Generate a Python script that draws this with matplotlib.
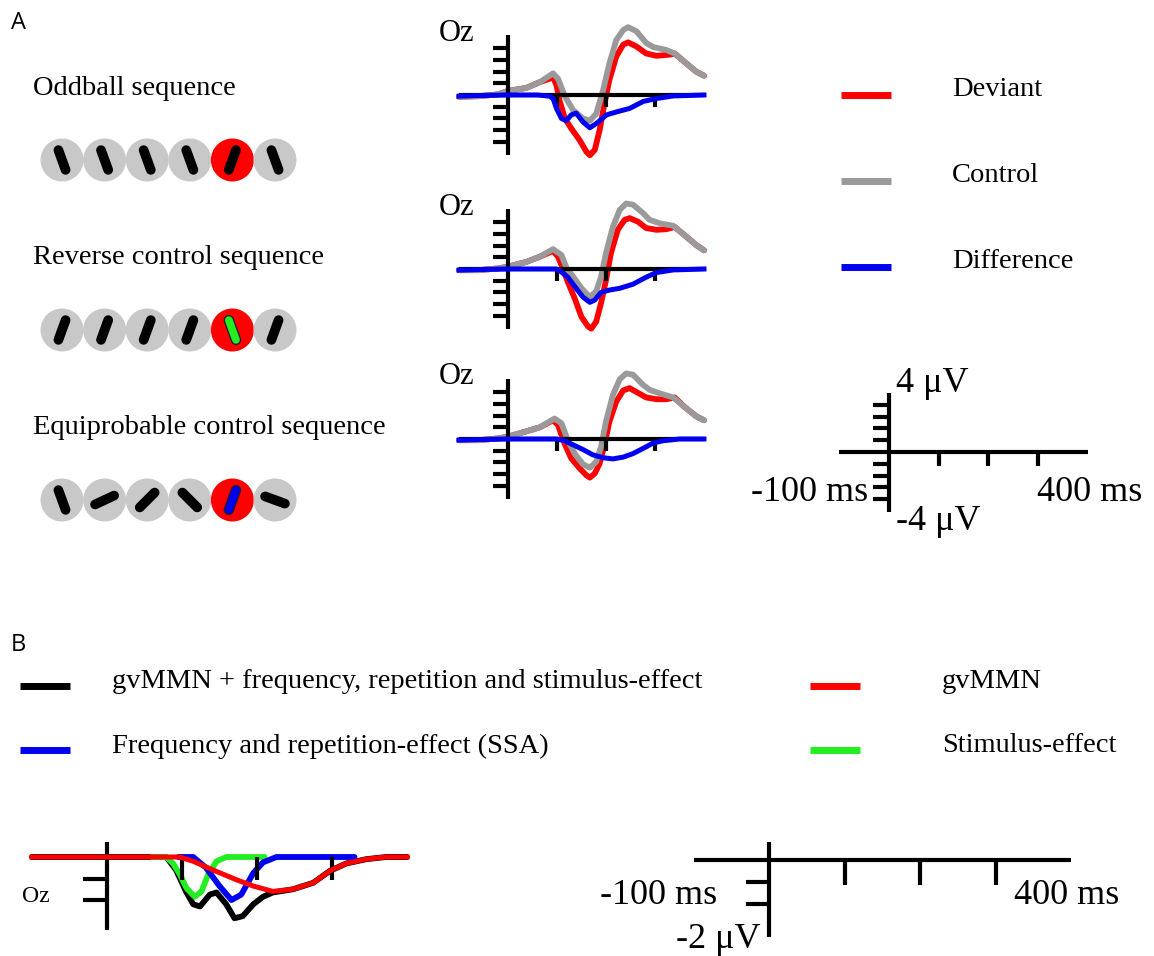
import matplotlib
matplotlib.use("Agg")
import matplotlib.pyplot as plt
from matplotlib.patches import Circle
import numpy as np

W, H = 1154, 956
SERIF = "Liberation Serif"
SANS = "Open Sans"

RED = "#ff0000"
GREY = "#9a9a9a"
BLUE = "#0000f0"
GREEN = "#22ee22"
BLACK = "#000000"

# ---------------- data ----------------
# Stimulus rows: bar orientation (degrees from vertical, + = top leans right)
row_labels = ["Oddball sequence", "Reverse control sequence",
              "Equiprobable control sequence"]
oddball_angles = [-20, -20, -20, -20, 20, -20]
reverse_angles = [20, 20, 20, 20, -20, 20]
equiprob_angles = [-20, 65, 45, -45, 20, -70]
deviant_bar_colors = [BLACK, GREEN, BLUE]

# Panel A waveforms (ms, µV)
odd_ctrl_t = [-100, -60, -20, 0, 37, 65, 92, 102, 116, 133, 153, 167, 180, 194,
              207, 221, 235, 245, 262, 282, 296, 323, 340, 364, 384, 400]
odd_ctrl_v = [-0.15, -0.1, 0.05, 0.35, 0.6, 1.1, 1.85, 1.4, -0.1, -1.3, -2.0,
              -2.2, -1.6, 0.4, 2.7, 4.7, 5.55, 5.8, 5.45, 4.45, 4.1, 3.85, 3.55,
              2.7, 2.0, 1.65]
odd_dev_t = [-100, -60, -20, 0, 37, 65, 92, 99, 105, 116, 129, 146, 160, 167,
             177, 187, 197, 207, 221, 235, 245, 262, 282, 303, 330, 340, 364,
             384, 400]
odd_dev_v = [-0.15, -0.1, 0.05, 0.35, 0.6, 1.1, 1.5, 0.85, -0.45, -2.0, -2.85,
             -3.85, -4.85, -5.15, -4.7, -3.0, -0.7, 1.3, 3.3, 4.3, 4.5, 4.15,
             3.55, 3.35, 3.45, 3.55, 2.7, 2.0, 1.65]
odd_diff_t = [-100, -60, 0, 60, 85, 92, 99, 109, 119, 129, 139, 153, 167, 180,
              201, 221, 248, 276, 303, 337, 400]
odd_diff_v = [-0.1, -0.05, 0.0, 0.0, -0.1, -0.3, -1.15, -2.0, -2.2, -1.7, -1.55,
              -2.3, -2.8, -2.45, -1.7, -1.45, -1.15, -0.55, -0.3, -0.08, 0.0]

rev_ctrl_t = [-100, -60, -20, 0, 37, 65, 92, 109, 120, 133, 150, 167, 180, 190,
              200, 214, 228, 241, 255, 275, 289, 310, 337, 360, 384, 400]
rev_ctrl_v = [-0.1, -0.1, 0.05, 0.2, 0.6, 1.05, 1.7, 1.2, 0.05, -0.65, -1.65,
              -2.4, -1.9, -0.65, 1.35, 3.6, 5.05, 5.6, 5.5, 4.8, 4.2, 3.9, 3.7,
              2.9, 2.05, 1.6]
rev_dev_t = [-100, -60, -20, 0, 37, 65, 92, 102, 112, 122, 136, 150, 163, 170,
             180, 190, 200, 210, 224, 238, 248, 265, 282, 303, 323, 340, 360,
             384, 400]
rev_dev_v = [-0.1, -0.1, 0.05, 0.2, 0.6, 1.05, 1.55, 1.05, 0.05, -1.1, -2.5,
             -4.1, -4.9, -5.1, -4.5, -2.9, -0.95, 1.35, 3.35, 4.2, 4.35, 4.05,
             3.5, 3.35, 3.4, 3.6, 2.9, 2.05, 1.6]
rev_diff_t = [-100, -60, 0, 60, 99, 109, 122, 139, 153, 167, 177, 190, 207, 228,
              255, 282, 303, 337, 400]
rev_diff_v = [-0.1, -0.05, 0.0, 0.0, 0.0, -0.25, -0.7, -1.65, -2.4, -2.85, -2.65,
              -2.0, -1.8, -1.65, -1.3, -0.7, -0.3, -0.08, 0.0]

eq_ctrl_t = [-100, -60, -20, 0, 37, 65, 95, 109, 122, 136, 153, 167, 180, 190,
             200, 214, 228, 241, 255, 275, 289, 310, 337, 360, 384, 400]
eq_ctrl_v = [-0.1, -0.1, 0.05, 0.2, 0.65, 1.0, 1.75, 1.35, -0.1, -1.25, -2.15,
             -2.45, -1.95, -0.65, 1.5, 3.75, 5.1, 5.6, 5.5, 4.65, 4.2, 3.9, 3.55,
             2.75, 1.95, 1.6]
eq_dev_t = [-100, -60, -20, 0, 37, 65, 92, 102, 115, 129, 146, 160, 167, 177,
            187, 197, 207, 221, 235, 248, 265, 282, 303, 323, 340, 360, 384, 400]
eq_dev_v = [-0.1, -0.1, 0.05, 0.2, 0.65, 1.0, 1.6, 1.2, -0.35, -1.65, -2.5,
            -3.1, -3.3, -2.95, -2.1, -0.5, 1.5, 3.2, 4.15, 4.35, 3.95, 3.55,
            3.4, 3.4, 3.55, 2.75, 1.95, 1.6]
eq_diff_t = [-100, -60, 0, 60, 99, 115, 133, 153, 173, 194, 214, 235, 255, 276,
             296, 316, 350, 400]
eq_diff_v = [-0.1, -0.05, 0.0, 0.0, 0.0, -0.15, -0.5, -0.9, -1.35, -1.6, -1.7,
             -1.55, -1.25, -0.8, -0.35, -0.15, 0.0, 0.0]

# Panel B component model (ms, µV)
sum_t = [-100, 0, 79, 92, 106, 115, 124, 137, 146, 159, 170, 181, 195, 208, 221,
         248, 275, 297, 319, 346, 372, 400]
sum_v = [0.0, 0.0, 0.0, -0.6, -1.65, -2.2, -2.3, -1.75, -1.65, -2.2, -2.85,
         -2.75, -2.2, -1.85, -1.65, -1.5, -1.2, -0.65, -0.3, -0.1, 0.0, 0.0]
gvmmn_t = [-100, 0, 97, 115, 141, 172, 195, 221, 248, 275, 297, 319, 346, 372, 400]
gvmmn_v = [0.0, 0.0, 0.0, -0.2, -0.6, -1.05, -1.35, -1.6, -1.5, -1.2, -0.65,
           -0.3, -0.1, 0.0, 0.0]
ssa_t = [95, 115, 132, 150, 166, 179, 195, 208, 226, 330]
ssa_v = [0.0, 0.0, -0.5, -1.35, -2.0, -1.75, -0.75, -0.25, 0.0, 0.0]
stim_t = [60, 79, 88, 97, 106, 117, 126, 135, 146, 159, 210]
stim_v = [0.0, 0.0, -0.3, -0.8, -1.45, -1.85, -1.6, -0.8, -0.2, 0.0, 0.0]

legend_A = ["Deviant", "Control", "Difference"]
legend_A_colors = [RED, GREY, BLUE]
legend_B_left = ["gvMMN + frequency, repetition and stimulus-effect",
                 "Frequency and repetition-effect (SSA)"]
legend_B_left_colors = [BLACK, BLUE]
legend_B_right = ["gvMMN", "Stimulus-effect"]
legend_B_right_colors = [RED, GREEN]

time_ticks = [100, 200, 300]
amp_ticks_A = [-4, -3, -2, -1, 1, 2, 3, 4]
amp_ticks_B = [-1, -2]

# ---------------- figure ----------------
fig = plt.figure(figsize=(W / 100, H / 100), dpi=100)
bg = fig.add_axes([0, 0, 1, 1])
bg.set_xlim(0, W)
bg.set_ylim(H, 0)
bg.axis("off")


def wave_axes(x0, y0, sx, sy, t_lo=-100, t_hi=400, v_lo=-6.5, v_hi=6.5):
    """Axes whose (0 ms, 0 µV) sits at pixel (x0, y0); sx px/ms, sy px/µV."""
    left = x0 + t_lo * sx
    right = x0 + t_hi * sx
    top = y0 - v_hi * sy
    bottom = y0 - v_lo * sy
    ax = fig.add_axes([left / W, 1 - bottom / H, (right - left) / W,
                       (bottom - top) / H])
    ax.set_xlim(t_lo, t_hi)
    ax.set_ylim(v_lo, v_hi)
    ax.axis("off")
    ax.patch.set_alpha(0)
    return ax


def draw_frame(ax, v_top, v_bot, amp_ticks, ytick_len, xtick_len, lw=3.0,
               baseline=True):
    kw = dict(color=BLACK, lw=lw, solid_capstyle="butt", clip_on=False, zorder=4)
    if baseline:
        ax.plot([-100, 400], [0, 0], **kw)
    ax.plot([0, 0], [v_bot, v_top], **kw)
    for a in amp_ticks:
        ax.plot([-ytick_len, 0], [a, a], **kw)
    for t in time_ticks:
        ax.plot([t, t], [0, -xtick_len], **kw)


SX_A, SY_A = 0.49, 11.7
panels = [
    (95, odd_dev_t, odd_dev_v, odd_ctrl_t, odd_ctrl_v, odd_diff_t, odd_diff_v),
    (269, rev_dev_t, rev_dev_v, rev_ctrl_t, rev_ctrl_v, rev_diff_t, rev_diff_v),
    (439, eq_dev_t, eq_dev_v, eq_ctrl_t, eq_ctrl_v, eq_diff_t, eq_diff_v),
]
curve_kw = dict(lw=4.2, solid_joinstyle="round", solid_capstyle="round",
                clip_on=False)
for y0, dt, dv, ct, cv, ft, fv in panels:
    ax = wave_axes(508, y0, SX_A, SY_A)
    ax.plot(dt, dv, color=RED, zorder=2, **curve_kw)
    ax.plot(ct, cv, color=GREY, zorder=3, **curve_kw)
    draw_frame(ax, 5.1, -5.1, amp_ticks_A, 30, 1.05)
    ax.plot(ft, fv, color=BLUE, zorder=5, lw=3.6, solid_joinstyle="round",
            clip_on=False)
    bg.text(439, y0 - 62, "Oz", family=SERIF, fontsize=22, ha="left",
            va="center")

# scale bar for panel A
sb = wave_axes(889, 452, 0.497, 11.8)
draw_frame(sb, 5.0, -5.1, amp_ticks_A, 33, 1.2)
bg.text(896, 383, "4 μV", family=SERIF, fontsize=26, ha="left", va="center")
bg.text(896, 521, "-4 μV", family=SERIF, fontsize=26, ha="left", va="center")
bg.text(868, 492, "-100 ms", family=SERIF, fontsize=26, ha="right", va="center")
bg.text(1037, 492, "400 ms", family=SERIF, fontsize=26, ha="left", va="center")

# legend A
for i, (lab, col) in enumerate(zip(legend_A, legend_A_colors)):
    y = 95 + 86 * i
    bg.plot([841, 891], [y, y], color=col, lw=5, solid_capstyle="butt")
    bg.text(952, y - 6, lab, family=SERIF, fontsize=20.5, ha="left",
            va="center")

# stimulus rows
row_y = [160, 330, 500]
row_angles = [oddball_angles, reverse_angles, equiprob_angles]
label_y = [88, 258, 428]
for r in range(3):
    bg.text(33, label_y[r], row_labels[r], family=SERIF, fontsize=20.5,
            ha="left", va="center")
    for i, ang in enumerate(row_angles[r]):
        cx = 62 + 42.6 * i
        cy = row_y[r]
        deviant = (i == 4)
        bg.add_patch(Circle((cx, cy), 21.5, fc=RED if deviant else "#c8c8c8",
                            ec="none", zorder=2))
        th = np.deg2rad(ang)
        dx, dy = 10.5 * np.sin(th), 10.5 * np.cos(th)
        xs, ys = [cx - dx, cx + dx], [cy + dy, cy - dy]
        if deviant and r > 0:
            bg.plot(xs, ys, color="#202020", lw=7.5, solid_capstyle="round",
                    zorder=3)
            bg.plot(xs, ys, color=deviant_bar_colors[r], lw=5.6,
                    solid_capstyle="round", zorder=4)
        else:
            bg.plot(xs, ys, color=BLACK, lw=7.0, solid_capstyle="round",
                    zorder=3)

bg.text(11, 23, "A", family=SANS, fontsize=17, ha="left", va="center")
bg.text(11, 645, "B", family=SANS, fontsize=17, ha="left", va="center")

# legend B
for i, (lab, col) in enumerate(zip(legend_B_left, legend_B_left_colors)):
    y = 686 + 64 * i
    bg.plot([20, 70], [y, y], color=col, lw=5, solid_capstyle="butt")
    bg.text(112, y - 4, lab, family=SERIF, fontsize=20.5, ha="left",
            va="center")
for i, (lab, col) in enumerate(zip(legend_B_right, legend_B_right_colors)):
    y = 686 + 64 * i
    bg.plot([810, 860], [y, y], color=col, lw=5, solid_capstyle="butt")
    bg.text(942, y - 4, lab, family=SERIF, fontsize=20.5, ha="left",
            va="center")

# panel B waveforms
bx = wave_axes(107, 857, 0.75, 21.5, v_lo=-4, v_hi=1)
draw_frame(bx, 0.7, -3.4, amp_ticks_B, 32, 1.07, baseline=False)
bx.plot(sum_t, sum_v, color=BLACK, zorder=2, **curve_kw)
bx.plot(stim_t, stim_v, color=GREEN, zorder=3, **curve_kw)
bx.plot(ssa_t, ssa_v, color=BLUE, zorder=3.5, **curve_kw)
bx.plot(gvmmn_t, gvmmn_v, color=RED, zorder=5, lw=3.6,
        solid_joinstyle="round", clip_on=False)
bg.text(22, 897, "Oz", family=SERIF, fontsize=17, ha="left", va="center")

# scale bar for panel B
sbb = wave_axes(769, 860, 0.755, 22, v_lo=-4, v_hi=1)
draw_frame(sbb, 0.8, -3.5, amp_ticks_B, 31, 1.13)
bg.text(717, 895, "-100 ms", family=SERIF, fontsize=26, ha="right", va="center")
bg.text(1014, 895, "400 ms", family=SERIF, fontsize=26, ha="left", va="center")
bg.text(760, 940, "-2 μV", family=SERIF, fontsize=26, ha="right", va="center")

fig.savefig("out.png", dpi=100, facecolor="white")
